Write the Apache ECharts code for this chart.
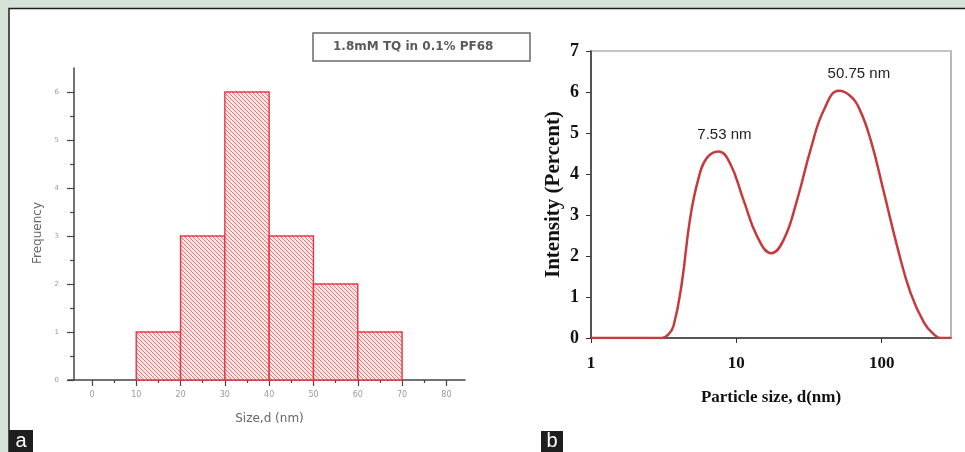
<!DOCTYPE html>
<html>
<head>
<meta charset="utf-8">
<script src="https://cdn.jsdelivr.net/npm/echarts@6/dist/echarts.min.js"></script>
<style>
  html, body { margin: 0; padding: 0; background: #d6e3d9; }
  #chart { width: 965px; height: 452px; }
</style>
</head>
<body>
<div id="chart"></div>
<script>
// Panel a: histogram of particle sizes
const binStarts = [10, 20, 30, 40, 50, 60];
const binWidth = 10;
const frequencies = [1, 3, 6, 3, 2, 1];
const histXTicks = [0, 10, 20, 30, 40, 50, 60, 70, 80];
const histXMinor = [5, 15, 25, 35, 45, 55, 65, 75];
const histYTicks = [0, 1, 2, 3, 4, 5, 6];
const histYMinor = [0.5, 1.5, 2.5, 3.5, 4.5, 5.5];
const seriesLabel = '1.8mM TQ in 0.1% PF68';

// Panel b: intensity distribution (log size axis)
const particleSizes = [1, 2, 2.8, 3.07, 3.4, 3.7, 4.2, 4.8, 5.5, 6.3, 7.53, 9.0, 11.2, 13.9, 17.4, 21.2, 26.2, 32.4, 40, 50.75, 60, 70, 84, 104, 128, 158, 196, 230, 255, 300];
const intensities = [0, 0, 0, 0, 0.08, 0.3, 1.3, 2.9, 3.9, 4.4, 4.55, 4.28, 3.37, 2.48, 2.07, 2.4, 3.37, 4.59, 5.56, 6.03, 5.92, 5.6, 4.83, 3.53, 2.23, 1.1, 0.37, 0.08, 0, 0];
const peakSizes = [7.53, 50.75];
const peakLabelOffsets = [[6, -4], [20, -4]];
const logTicks = [1, 10, 100];

// diagonal hatch fill for the histogram bars
function makeHatch() {
  const s = 4;
  const c = document.createElement('canvas');
  c.width = s; c.height = s;
  const g = c.getContext('2d');
  g.fillStyle = '#fbe6e1';
  g.fillRect(0, 0, s, s);
  g.strokeStyle = 'rgba(232,70,90,0.72)';
  g.lineWidth = 1;
  g.beginPath();
  g.moveTo(-1, -1); g.lineTo(s + 1, s + 1);
  g.moveTo(s - 1, -1); g.lineTo(s + 1, 1);
  g.moveTo(-1, s - 1); g.lineTo(1, s + 1);
  g.stroke();
  return c;
}
const hatch = { image: makeHatch(), repeat: 'repeat' };

const histData = binStarts.map((x, i) => [x, x + binWidth, frequencies[i]]);
const curveData = particleSizes.map((x, i) => {
  const k = peakSizes.indexOf(x);
  if (k < 0) return [x, intensities[i]];
  return {
    value: [x, intensities[i]],
    label: {
      show: true,
      position: 'top',
      offset: peakLabelOffsets[k],
      formatter: p => p.value[0] + ' nm',
      fontFamily: '"Liberation Sans", sans-serif',
      fontSize: 15,
      color: '#222'
    }
  };
});

const smallGrey = { fontFamily: 'DejaVu Sans', fontSize: 7, color: '#9a9a9a' };
const serifBold = { fontFamily: '"Liberation Serif", "Times New Roman", serif', fontWeight: 'bold', color: '#111' };

const chart = echarts.init(document.getElementById('chart'));
chart.setOption({
  backgroundColor: '#d6e3d9',
  animation: false,
  graphic: [
    { type: 'rect', z: -10, shape: { x: 9, y: 8, width: 960, height: 450 }, style: { fill: '#ffffff' } },
    { type: 'polyline', z: -9, shape: { points: [[9, 452], [9, 8.5], [965, 8.5]] }, style: { stroke: '#1f1f1f', lineWidth: 1.5, fill: null } },
    { type: 'rect', shape: { x: 313, y: 33, width: 217, height: 28 }, style: { fill: '#fff', stroke: '#6a6a6a', lineWidth: 1.5 } },
    { type: 'text', x: 333, y: 47, style: { text: seriesLabel, fontFamily: 'DejaVu Sans', fontWeight: 'bold', fontSize: 12, fill: '#5a5a5a', verticalAlign: 'middle' } },
    { type: 'rect', shape: { x: 9, y: 430, width: 24, height: 22 }, style: { fill: '#1e1e1e' } },
    { type: 'text', x: 21, y: 441, style: { text: 'a', fontFamily: 'Liberation Sans', fontSize: 20, fill: '#fff', align: 'center', verticalAlign: 'middle' } },
    { type: 'rect', shape: { x: 541, y: 431, width: 22, height: 21 }, style: { fill: '#1e1e1e' } },
    { type: 'text', x: 552, y: 441, style: { text: 'b', fontFamily: 'Liberation Sans', fontSize: 20, fill: '#fff', align: 'center', verticalAlign: 'middle' } }
  ],
  grid: [
    { left: 68, top: 68, right: 500, bottom: 72 },
    { left: 591, top: 51, right: 14, bottom: 114, show: true, borderColor: '#8a8a8a', borderWidth: 1.2, backgroundColor: 'transparent' }
  ],
  xAxis: [
    {
      gridIndex: 0, type: 'value', min: -5.4, max: 84.2,
      name: 'Size,d (nm)', nameLocation: 'middle', nameGap: 33,
      nameTextStyle: { fontFamily: 'DejaVu Sans', fontSize: 12, color: '#666', padding: [0, 0, 0, 6] },
      axisLine: { lineStyle: { color: '#444', width: 1.5 } },
      axisTick: { customValues: histXTicks, length: 6, lineStyle: { color: '#444', width: 1.2 } },
      axisLabel: { customValues: histXTicks, margin: 11, ...smallGrey, fontSize: 8 },
      splitLine: { show: false }
    },
    {
      gridIndex: 0, type: 'value', min: -5.4, max: 84.2, position: 'bottom',
      axisLine: { show: false },
      axisTick: { customValues: histXMinor, length: 3, lineStyle: { color: '#444', width: 1.2 } },
      axisLabel: { show: false },
      splitLine: { show: false }
    },
    {
      gridIndex: 1, type: 'log', logBase: 10, min: 1, max: 300,
      name: 'Particle size, d(nm)', nameLocation: 'middle', nameGap: 51,
      nameTextStyle: { ...serifBold, fontSize: 17 },
      axisLine: { lineStyle: { color: '#333', width: 1.5 } },
      axisTick: { customValues: logTicks, length: 5, lineStyle: { color: '#333' } },
      axisLabel: { customValues: logTicks, margin: 17, ...serifBold, fontSize: 17 },
      splitLine: { show: false }
    }
  ],
  yAxis: [
    {
      gridIndex: 0, type: 'value', min: 0, max: 6.5, offset: -6,
      name: 'Frequency', nameLocation: 'middle', nameGap: 30, nameRotate: 90,
      nameTextStyle: { fontFamily: 'DejaVu Sans', fontSize: 12, color: '#666', padding: [0, 18, 0, 0] },
      axisLine: { show: true, onZero: false, lineStyle: { color: '#444', width: 1.5 } },
      axisTick: { customValues: histYTicks, length: 7, lineStyle: { color: '#444', width: 1.2 } },
      axisLabel: { customValues: histYTicks, margin: 15, ...smallGrey },
      splitLine: { show: false }
    },
    {
      gridIndex: 0, type: 'value', min: 0, max: 6.5, position: 'left', offset: -6,
      axisLine: { show: false, onZero: false },
      axisTick: { show: true, customValues: histYMinor, length: 4, lineStyle: { color: '#444', width: 1.2 } },
      axisLabel: { show: false },
      splitLine: { show: false }
    },
    {
      gridIndex: 1, type: 'value', min: 0, max: 7, interval: 1,
      name: 'Intensity (Percent)', nameLocation: 'middle', nameGap: 27, nameRotate: 90,
      nameTextStyle: { ...serifBold, fontSize: 21 },
      axisLine: { show: true, onZero: false, lineStyle: { color: '#333', width: 1.5 } },
      axisTick: { show: true, length: 5, lineStyle: { color: '#333' } },
      axisLabel: { margin: 12, ...serifBold, fontSize: 18 },
      splitLine: { show: false }
    }
  ],
  series: [
    {
      type: 'custom',
      xAxisIndex: 0, yAxisIndex: 0,
      encode: { x: [0, 1], y: 2 },
      data: histData,
      renderItem: (params, api) => {
        const top = api.coord([api.value(0), api.value(2)]);
        const bottom = api.coord([api.value(1), 0]);
        return {
          type: 'rect',
          shape: { x: top[0], y: top[1], width: bottom[0] - top[0], height: bottom[1] - top[1] },
          style: { fill: hatch, stroke: '#ec3346', lineWidth: 1.4 }
        };
      }
    },
    {
      type: 'line',
      xAxisIndex: 2, yAxisIndex: 2,
      data: curveData,
      smooth: 0.45,
      symbol: 'circle', symbolSize: 0, showSymbol: true,
      lineStyle: { color: '#c63a3e', width: 2.5 },
      itemStyle: { color: '#c63a3e' },
      z: 5
    }
  ]
});
</script>
</body>
</html>
